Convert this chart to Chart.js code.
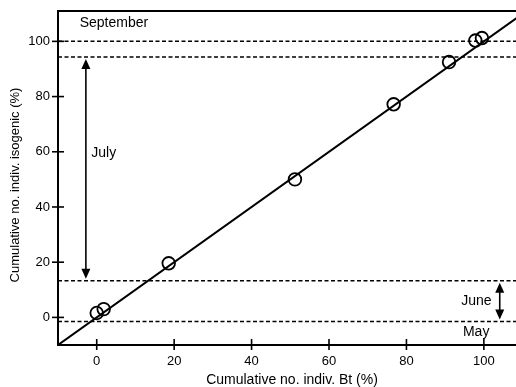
<!DOCTYPE html>
<html>
<head>
<meta charset="utf-8">
<script src="https://cdn.jsdelivr.net/npm/chart.js@4/dist/chart.umd.min.js"></script>
<style>
  html, body { margin: 0; padding: 0; background: #fff; }
  #wrap { width: 516px; height: 387px; }
</style>
</head>
<body>
<div id="wrap"><canvas id="c" width="516" height="387"></canvas></div>
<script>
// Cumulative share of individuals: Bt plots vs. isogenic plots
const cumBt        = [0, 1.8, 18.6, 51.2, 76.7, 91.0, 97.8, 99.5];
const cumIsogenic  = [1.6, 3.0, 19.6, 50.0, 77.2, 92.5, 100.3, 101.2];

// 1:1 reference line
const lineX = [-10, 120];
const lineY = [-10, 120];

// Month boundaries (isogenic %), drawn as dashed lines
const monthBounds = [100, 94.3, 13.3, -1.5];

// Month spans shown as double-headed arrows
const arrowX    = [-2.8, 104.1];
const arrowFrom = [94.3, 13.3];
const arrowTo   = [13.3, -1.5];

// Month names and where they sit
const monthNames = ['September', 'July', 'June', 'May'];
const monthX     = [-4.4, -1.4, 102.0, 94.6];
const monthY     = [106.5, 59.5, 6.0, -5.2];
const monthAlign = ['left', 'left', 'right', 'left'];

const xTickValues = [0, 20, 40, 60, 80, 100];
const yTickValues = [0, 20, 40, 60, 80, 100];
const xRange = [-10, 108.3];
const yRange = [-10, 111];

const xTitle = 'Cumulative no. indiv. Bt (%)';
const yTitle = 'Cumulative no. indiv. isogenic (%)';

const FONT = '"Liberation Sans", Arial, sans-serif';

const dashedSets = monthBounds.map(v => ({
  type: 'line',
  data: xRange.map(x => ({ x: x, y: v })),
  borderColor: '#000',
  borderWidth: 1.5,
  borderDash: [4, 2.5],
  pointRadius: 0,
  fill: false
}));

const decor = {
  id: 'decor',
  afterDatasetsDraw(chart) {
    const ctx = chart.ctx;
    const xs = chart.scales.x, ys = chart.scales.y;
    const area = chart.chartArea;
    ctx.save();
    ctx.strokeStyle = '#000';
    ctx.fillStyle = '#000';

    // top frame line
    ctx.lineWidth = 2;
    ctx.beginPath();
    ctx.moveTo(area.left - 1, area.top);
    ctx.lineTo(area.right, area.top);
    ctx.stroke();

    // tick marks crossing both axes
    ctx.lineWidth = 1.6;
    xTickValues.forEach(v => {
      const px = xs.getPixelForValue(v);
      ctx.beginPath();
      ctx.moveTo(px, area.bottom - 6);
      ctx.lineTo(px, area.bottom + 5);
      ctx.stroke();
    });
    yTickValues.forEach(v => {
      const py = ys.getPixelForValue(v);
      ctx.beginPath();
      ctx.moveTo(area.left - 6, py);
      ctx.lineTo(area.left + 6, py);
      ctx.stroke();
    });

    // double-headed arrows
    const head = (x, y, dir) => {
      ctx.beginPath();
      ctx.moveTo(x, y);
      ctx.lineTo(x - 4.5, y - dir * 10);
      ctx.lineTo(x + 4.5, y - dir * 10);
      ctx.closePath();
      ctx.fill();
    };
    ctx.lineWidth = 1.6;
    arrowX.forEach((xv, i) => {
      const px = xs.getPixelForValue(xv);
      const y1 = ys.getPixelForValue(arrowFrom[i]) + 2;
      const y2 = ys.getPixelForValue(arrowTo[i]) - 2;
      ctx.beginPath();
      ctx.moveTo(px, y1 + 8);
      ctx.lineTo(px, y2 - 8);
      ctx.stroke();
      head(px, y1, -1);
      head(px, y2, 1);
    });

    // month labels
    ctx.font = '14px ' + FONT;
    ctx.textBaseline = 'middle';
    monthNames.forEach((name, i) => {
      ctx.textAlign = monthAlign[i];
      ctx.fillText(name, xs.getPixelForValue(monthX[i]), ys.getPixelForValue(monthY[i]));
    });

    // horizontal axis title
    ctx.textAlign = 'center';
    ctx.fillText(xTitle, (area.left + area.right) / 2 + 5, area.bottom + 35);

    // vertical axis title, rotated
    ctx.translate(15, area.top + (area.bottom - area.top) / 2 + 7);
    ctx.rotate(-Math.PI / 2);
    ctx.font = '13px ' + FONT;
    ctx.textAlign = 'center';
    ctx.fillText(yTitle, 0, 0);
    ctx.restore();
  }
};

new Chart(document.getElementById('c'), {
  data: {
    datasets: [
      ...dashedSets,
      {
        type: 'line',
        data: lineX.map((x, i) => ({ x: x, y: lineY[i] })),
        borderColor: '#000',
        borderWidth: 2,
        pointRadius: 0,
        fill: false
      },
      {
        type: 'scatter',
        data: cumBt.map((x, i) => ({ x: x, y: cumIsogenic[i] })),
        pointStyle: 'circle',
        pointRadius: 6.3,
        pointBorderWidth: 1.8,
        pointBorderColor: '#000',
        pointBackgroundColor: 'rgba(0,0,0,0)'
      }
    ]
  },
  plugins: [decor],
  options: {
    responsive: false,
    animation: false,
    layout: { autoPadding: false, padding: { top: 11, right: 0, left: 0, bottom: 0 } },
    plugins: { legend: { display: false }, tooltip: { enabled: false } },
    scales: {
      x: {
        type: 'linear',
        min: xRange[0],
        max: xRange[1],
        afterBuildTicks: s => { s.ticks = xTickValues.map(v => ({ value: v })); },
        afterFit: s => { s.height = 42; s.paddingLeft = 0; s.paddingRight = 0; },
        grid: { display: true, drawOnChartArea: false, drawTicks: false },
        border: { display: true, color: '#000', width: 2 },
        ticks: { color: '#000', font: { family: FONT, size: 13 }, padding: 9, maxRotation: 0 },
        title: { display: false, text: xTitle }
      },
      y: {
        type: 'linear',
        min: yRange[0],
        max: yRange[1],
        afterBuildTicks: s => { s.ticks = yTickValues.map(v => ({ value: v })); },
        afterFit: s => { s.width = 58; s.paddingTop = 0; s.paddingBottom = 0; },
        grid: { display: true, drawOnChartArea: false, drawTicks: false },
        border: { display: true, color: '#000', width: 2 },
        ticks: { color: '#000', font: { family: FONT, size: 13 }, padding: 8 },
        title: { display: false, text: yTitle }
      }
    }
  }
});
</script>
</body>
</html>
